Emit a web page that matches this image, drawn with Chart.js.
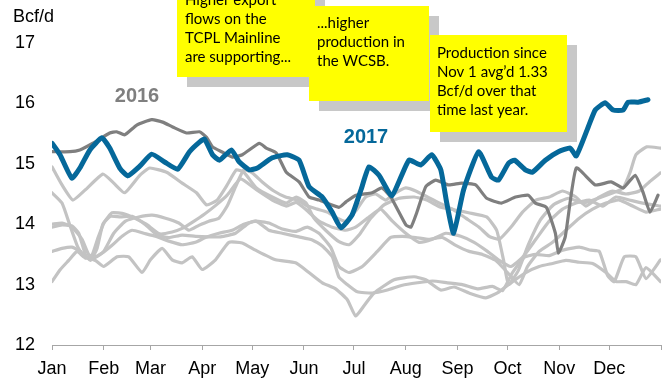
<!DOCTYPE html>
<html>
<head>
<meta charset="utf-8">
<script src="https://cdn.jsdelivr.net/npm/chart.js@4.4.1/dist/chart.umd.min.js"></script>
<style>
  html, body { margin: 0; padding: 0; background: #fff; }
  #wrap { width: 669px; height: 378px; }
</style>
</head>
<body>
<div id="wrap"><canvas id="supplyChart" width="669" height="378"></canvas></div>
<script>
// month axis
const monthLabels = ['Jan', 'Feb', 'Mar', 'Apr', 'May', 'Jun', 'Jul', 'Aug', 'Sep', 'Oct', 'Nov', 'Dec'];
const monthStarts = [0, 31, 59, 90, 120, 151, 181, 212, 243, 273, 304, 334, 365];
const yTicks = [12, 13, 14, 15, 16, 17];

// daily supply, Bcf/d — [day of year, value]
const y2017 = [[0,15.34],[4.8,15.15],[11.9,14.76],[16.7,14.93],[22.7,15.23],[29.9,15.43],[34.6,15.26],[40.6,14.93],[45.4,14.80],[52.6,14.96],[59.7,15.16],[67.5,15.03],[75.3,14.91],[82.4,15.20],[88.4,15.36],[91.4,15.41],[96.2,15.15],[100.4,15.06],[107.5,15.23],[112.3,15.03],[118.3,14.90],[123.1,14.93],[132,15.10],[141,15.15],[148.1,15.06],[154.1,14.62],[161.9,14.45],[167.9,14.20],[173.2,13.94],[179.8,14.15],[185.2,14.57],[190,14.95],[196,14.81],[203.7,14.47],[213.9,15.06],[221,14.98],[227.6,15.15],[233,14.90],[236.6,14.35],[240.7,13.85],[246.7,14.57],[255.7,15.20],[263.4,14.78],[267.6,14.73],[273.6,15.01],[277.2,15.06],[283.7,14.90],[287.9,14.86],[295.7,15.06],[303.5,15.20],[310.6,15.26],[314.2,15.13],[321.4,15.61],[325.6,15.89],[331.5,16.01],[336.3,15.89],[342.3,15.89],[345.3,16.02],[351.3,16.02],[357.2,16.06]];

const y2016 = [[0,15.20],[10.8,15.20],[16.7,15.23],[24.5,15.34],[34.6,15.51],[38.8,15.53],[43.6,15.48],[50.8,15.64],[59.7,15.73],[66.3,15.69],[72.3,15.61],[80.6,15.51],[88.4,15.53],[92.6,15.44],[96.2,15.28],[101.6,15.20],[108.1,15.11],[114.1,15.15],[124.3,15.34],[128.4,15.26],[134.4,15.18],[140.4,14.86],[148.1,14.70],[154.1,14.45],[160.1,14.40],[172,14.28],[176.2,14.37],[182.2,14.48],[191.8,14.52],[197.7,14.60],[203.1,14.45],[212.1,13.99],[215.1,13.95],[218.6,14.19],[224,14.62],[230,14.73],[237.8,14.65],[245.5,14.68],[253.9,14.65],[260.5,14.43],[269.4,14.35],[277.8,14.45],[285.5,14.48],[289.7,14.35],[296.3,14.28],[301.7,13.85],[303.5,13.52],[307.6,13.79],[314.2,14.93],[325.6,14.65],[335.1,14.70],[342.3,14.60],[349.5,14.81],[354.2,14.53],[358.4,14.20],[363.2,14.48]];

// earlier years
const yearA = [[0,14.95],[6,14.65],[12.5,14.40],[20,14.57],[30.5,14.83],[37,14.68],[43.6,14.52],[52.6,14.81],[58.5,14.93],[68.7,14.86],[78,14.68],[86.6,14.52],[92.6,14.32],[99,14.40],[105,14.65],[110.5,14.90],[115,14.86],[122.5,14.60],[132,14.45],[140.4,14.35],[146.4,14.45],[152.3,14.35],[157,14.10],[164,13.90],[172,13.71],[178,13.66],[184,13.82],[191,14.10],[199,14.32],[208,14.43],[217,14.45],[224.6,14.40],[233,14.28],[240.7,14.24],[249.7,14.19],[260.5,14.12],[266.5,13.90],[270.6,13.41],[273.6,13.00],[279.6,13.24],[285.5,13.66],[292.7,14.07],[300.5,14.32],[309.5,14.43],[318.4,14.35],[327.4,14.43],[336.3,14.52],[342.3,14.60],[346.5,14.86],[350,15.15],[356.4,15.28],[364.7,15.26]];

const yearB = [[0,14.52],[6,14.35],[10.5,14.0],[15.5,13.62],[20,13.44],[24,13.49],[27.5,13.77],[31.5,14.04],[36,14.19],[43.6,14.17],[49.5,14.10],[56.5,14.00],[64.5,13.84],[72,13.87],[78,13.93],[84.5,14.04],[91.5,14.17],[98.5,14.32],[105,14.48],[113,14.75],[122.5,14.57],[132,14.40],[140.4,14.30],[146.4,14.36],[152.3,14.24],[160,14.05],[168,13.95],[176,13.90],[182,13.95],[190,14.12],[197,14.25],[204,14.05],[212,13.85],[220,13.70],[228,13.75],[236,13.85],[245,13.80],[253,13.70],[261,13.55],[268,13.40],[275,13.30],[282,13.45],[290,13.75],[298,14.05],[306,14.25],[314,14.35],[322,14.40],[330,14.30],[338,14.45],[346,14.40],[354,14.35],[364.7,14.30]];

const yearC = [[0,13.95],[6,13.99],[12,13.97],[16,13.85],[20,13.50],[23,13.40],[27,13.60],[30.5,14.00],[35,14.13],[41,14.12],[48,14.13],[56,13.99],[63,13.82],[70,13.78],[78,13.82],[86,13.80],[94,13.79],[101,13.79],[110,13.85],[118,14.02],[122.5,14.05],[130,13.90],[138,13.85],[148,13.79],[156,13.74],[162,13.64],[168,13.46],[172,13.12],[177,13.00],[183,12.88],[192,12.86],[201,12.91],[210,12.99],[219,13.03],[228,13.06],[237,13.03],[246,13.00],[255,12.93],[264,12.97],[270,12.90],[276,13.20],[283,13.45],[290,13.50],[298,13.48],[306,13.57],[316,13.62],[323,13.57],[328,13.55],[333,13.15],[337,13.05],[343,13.46],[350,13.46],[356,13.10],[364.7,13.41]];

const yearD = [[0,13.55],[6,13.60],[12,13.62],[17,13.55],[20,13.46],[25,13.45],[30,13.52],[36,13.65],[42,13.80],[48,13.90],[55,13.85],[62,13.80],[70,13.72],[78,13.66],[86,13.70],[92,13.78],[100,13.85],[108,13.90],[115,14.00],[122,14.05],[130,14.02],[138,13.92],[146,13.88],[153,13.95],[160,13.85],[167,13.62],[172,13.30],[178,13.20],[186,13.30],[195,13.55],[203,13.78],[210,13.80],[218,13.78],[226,13.75],[234,13.78],[242,13.65],[250,13.55],[258,13.50],[266,13.40],[273,13.20],[280,13.00],[285,13.30],[292,13.55],[300,13.70],[308,13.90],[316,14.10],[324,14.25],[332,14.35],[340,14.40],[348,14.30],[356,14.20],[364.7,14.25]];

const yearE = [[0,13.05],[5,13.25],[10,13.40],[15,13.55],[19,13.46],[26,13.40],[31,13.30],[39,13.46],[46,13.46],[54,13.20],[59,13.41],[66,13.60],[72,13.41],[78,13.36],[84,13.46],[90,13.25],[98,13.41],[106,13.70],[114,13.69],[122,13.57],[134,13.41],[146,13.36],[154,13.20],[162,13.03],[170,12.93],[177,12.75],[182,12.48],[187,12.65],[193,12.86],[205,13.08],[217,13.13],[224,13.08],[233,12.91],[241,12.96],[250,12.86],[260,12.78],[268,12.88],[276,13.05],[284,13.20],[292,13.30],[300,13.35],[308,13.40],[316,13.37],[324,13.35],[332,13.20],[338,13.05],[344,13.05],[350,13.00],[356,13.28],[364.7,13.05]];

const yearF = [[0,14.0],[6,14.02],[12,13.95],[18,13.75],[22,13.50],[26,13.45],[31,13.55],[37,13.85],[44,14.05],[52,14.12],[60,14.15],[68,14.10],[76,14.02],[82,13.90],[88,13.98],[94,14.05],[100,14.10],[105,14.30],[110,14.62],[115,14.90],[120,14.85],[126,14.70],[133,14.55],[140,14.45],[147,14.40],[153,14.30],[159,14.25],[165,14.20],[171,14.10],[176,14.05],[182,14.22],[188,14.45],[194,14.50],[200,14.40],[206,14.52],[212,14.60],[218,14.55],[225,14.45],[232,14.35],[240,14.25],[248,14.10],[256,13.95],[262,13.80],[268,13.75],[275,13.95],[282,14.20],[290,14.40],[298,14.45],[306,14.55],[314,14.45],[320,14.30],[328,14.45],[336,14.55],[344,14.50],[352,14.55],[358,14.70],[364.7,14.85]];

const olderYears = [yearA, yearB, yearC, yearD, yearE, yearF];

const BLUE = '#05689a';
const DARK = '#7f7f7f';
const LIGHT = '#c3c3c3';

function toPoints(series) {
    return series.map(([d, v]) => ({ x: d, y: v }));
}

function lineSet(label, series, color, width) {
    return {
        label: label,
        data: toPoints(series),
        borderColor: color,
        borderWidth: width,
        pointRadius: 0,
        tension: 0.15,
        borderJoinStyle: 'round',
        borderCapStyle: 'round',
        fill: false
    };
}

// first dataset ends up on top
const datasets = [lineSet('2017', y2017, BLUE, 5), lineSet('2016', y2016, DARK, 3.2)];
olderYears.forEach((s, i) => datasets.push(lineSet('older' + i, s, LIGHT, 3.2)));

// yellow sticky notes + series labels
const notes = [
    { x: 177, y: -20, w: 138, h: 97, lines: ['Higher export', 'flows on the', 'TCPL Mainline', 'are supporting...'], tx: 185, ty: 0 },
    { x: 309, y: 6, w: 120, h: 95, lines: ['...higher', 'production in', 'the WCSB.'], tx: 317, ty: 23 },
    { x: 430, y: 35, w: 137, h: 97, lines: ['Production since', 'Nov 1 avg\u2019d 1.33', 'Bcf/d over that', 'time last year.'], tx: 437, ty: 53 }
];

const annotations = {
    id: 'annotations',
    afterDraw(chart) {
        const ctx = chart.ctx;
        ctx.save();

        ctx.fillStyle = '#000';
        ctx.font = '18px "Liberation Sans", Arial, sans-serif';
        ctx.textAlign = 'left';
        ctx.textBaseline = 'middle';
        ctx.fillText('Bcf/d', 13, 17);

        ctx.font = 'bold 20px "Liberation Sans", Arial, sans-serif';
        ctx.textAlign = 'center';
        ctx.fillStyle = DARK;
        ctx.fillText('2016', 137, 96);
        ctx.fillStyle = BLUE;
        ctx.fillText('2017', 366, 137);

        notes.forEach(n => {
            ctx.fillStyle = '#c8c8c8';
            ctx.fillRect(n.x + 10, n.y + 10, n.w, n.h);
            ctx.fillStyle = '#ffff00';
            ctx.fillRect(n.x, n.y, n.w, n.h);
            ctx.fillStyle = '#000';
            ctx.font = '15px "Comic Sans MS", Lato, sans-serif';
            ctx.textAlign = 'left';
            ctx.textBaseline = 'middle';
            n.lines.forEach((t, i) => ctx.fillText(t, n.tx, n.ty + i * 19));
        });
        ctx.restore();
    }
};

Chart.defaults.font.family = '"Liberation Sans", Arial, sans-serif';

new Chart(document.getElementById('supplyChart').getContext('2d'), {
    type: 'line',
    data: { datasets: datasets },
    options: {
        responsive: false,
        animation: false,
        devicePixelRatio: 1,
        layout: { padding: { left: 15, top: 43, right: 6, bottom: 0 } },
        plugins: {
            legend: { display: false },
            tooltip: { enabled: false }
        },
        scales: {
            x: {
                type: 'linear',
                min: 0,
                max: 365,
                afterBuildTicks: axis => { axis.ticks = monthStarts.map(v => ({ value: v })); },
                afterFit: axis => { axis.height = 33; },
                ticks: {
                    autoSkip: false,
                    maxRotation: 0,
                    padding: 8,
                    color: '#000',
                    font: { size: 18 },
                    callback: (value, index) => monthLabels[index] || ''
                },
                grid: { drawOnChartArea: false, drawTicks: true, tickLength: 5, color: '#a6a6a6' },
                border: { display: true, color: '#a6a6a6', width: 1 }
            },
            y: {
                min: 12,
                max: 17,
                afterBuildTicks: axis => { axis.ticks = yTicks.map(v => ({ value: v })); },
                afterFit: axis => { axis.width = 37; },
                ticks: { color: '#000', font: { size: 18 }, crossAlign: 'far', padding: 0 },
                grid: { display: false },
                border: { display: false }
            }
        }
    },
    plugins: [annotations]
});
</script>
</body>
</html>
